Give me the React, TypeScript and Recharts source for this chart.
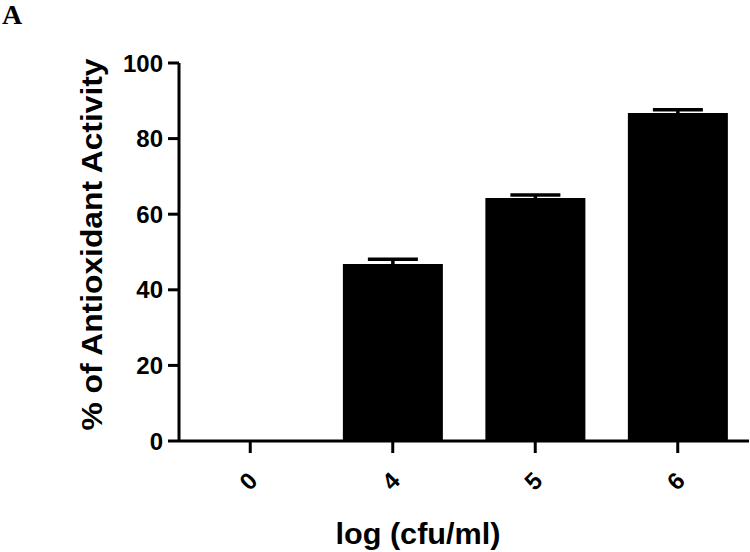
import React from "react";
import { BarChart, Bar, XAxis, YAxis, ErrorBar } from "recharts";

// log(cfu/ml) groups and % antioxidant activity (mean, error)
const doses = ["0", "4", "5", "6"];
const activity = [0, 46.8, 64.3, 86.8];
const activityErr = [0, 1.3, 0.8, 0.8];
const yTicks = [0, 20, 40, 60, 80, 100];

const data = doses.map((d, i) => ({ dose: d, value: activity[i], err: activityErr[i] }));

const W = 750;
const H = 552;
const FONT = "Arial, 'Liberation Sans', Helvetica, sans-serif";

function XTick({ x, payload }: { x?: number; payload?: { value: string } }) {
  const cx = (x ?? 0) - 2;
  const cy = 481;
  return (
    <text
      x={cx}
      y={cy}
      transform={`rotate(-45 ${cx} ${cy})`}
      textAnchor="middle"
      dominantBaseline="central"
      fill="#000"
      fontSize={24}
      fontWeight="bold"
      fontFamily={FONT}
    >
      {payload?.value}
    </text>
  );
}

function YTitle() {
  return (
    <text
      x={102}
      y={244.5}
      transform="rotate(-90 102 244.5)"
      textAnchor="middle"
      fill="#000"
      fontSize={29}
      fontWeight="bold"
      fontFamily={FONT}
      textLength={372}
      lengthAdjust="spacingAndGlyphs"
    >
      % of Antioxidant Activity
    </text>
  );
}

function XTitle() {
  return (
    <text
      x={418}
      y={544}
      textAnchor="middle"
      fill="#000"
      fontSize={29}
      fontWeight="bold"
      fontFamily={FONT}
      textLength={165}
      lengthAdjust="spacingAndGlyphs"
    >
      log (cfu/ml)
    </text>
  );
}

export default function App() {
  return (
    <div style={{ position: "absolute", left: 0, top: 0, width: W, height: H, background: "#fff" }}>
      <svg width={40} height={34} style={{ position: "absolute", left: 0, top: 0 }}>
        <text
          x={2}
          y={24}
          fill="#000"
          fontSize={28}
          fontWeight="bold"
          fontFamily="'Liberation Serif', 'Times New Roman', serif"
        >
          A
        </text>
      </svg>
      <BarChart
        width={W}
        height={H}
        data={data}
        margin={{ top: 63, right: 1, left: 99, bottom: 51 }}
        barCategoryGap="15%"
      >
        <XAxis
          dataKey="dose"
          height={60}
          axisLine={{ stroke: "#000", strokeWidth: 3 }}
          tickLine={{ stroke: "#000", strokeWidth: 3 }}
          tickSize={12}
          tick={<XTick />}
          interval={0}
          label={{ content: () => <XTitle /> }}
        />
        <YAxis
          width={80}
          domain={[0, 100]}
          ticks={yTicks}
          interval={0}
          axisLine={{ stroke: "#000", strokeWidth: 3 }}
          tickLine={{ stroke: "#000", strokeWidth: 3 }}
          tickSize={11}
          tickMargin={5}
          tick={{ fill: "#000", fontSize: 24, fontWeight: "bold", fontFamily: FONT }}
          label={{ content: () => <YTitle /> }}
        />
        <Bar dataKey="value" fill="#000" isAnimationActive={false}>
          <ErrorBar dataKey="err" width={25} stroke="#000" strokeWidth={3.5} isAnimationActive={false} />
        </Bar>
      </BarChart>
    </div>
  );
}
